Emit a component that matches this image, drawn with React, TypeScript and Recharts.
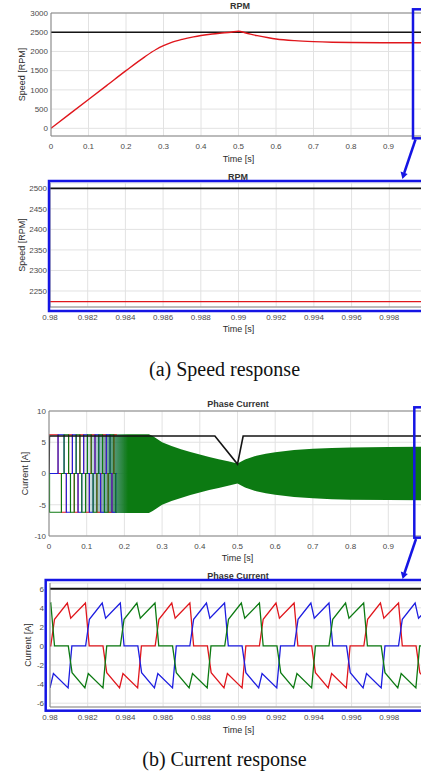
import React from 'react';
import { ComposedChart, Line, Area, XAxis, YAxis, CartesianGrid, ReferenceLine } from 'recharts';

const SANS = '"Liberation Sans", Arial, Helvetica, sans-serif';
const SERIF = '"Liberation Serif", "Times New Roman", serif';

const RED = '#e0161c';
const BLUE = '#1d1de0';
const GREEN = '#0c7a12';
const BLACK = '#141414';
const BOX = '#1515e4';
const AXIS = '#858585';
const GRID = '#e2e2e2';
const TICK = '#4a4a4a';

// ---------- (a) Speed response : full run ----------
const speedTimeTicks = [0, 0.1, 0.2, 0.3, 0.4, 0.5, 0.6, 0.7, 0.8, 0.9];
const speedTicks = [0, 500, 1000, 1500, 2000, 2500, 3000];
const speedRefTime = [0, 1];
const speedRefRpm = [2500, 2500];
const speedTime = [0, 0.05, 0.1, 0.15, 0.2, 0.25, 0.28, 0.3, 0.32, 0.35, 0.38, 0.4, 0.43, 0.45, 0.48, 0.5, 0.52, 0.55, 0.58, 0.6, 0.65, 0.7, 0.75, 0.8, 0.9, 1.0];
const speedRpm = [0, 375, 750, 1125, 1500, 1860, 2050, 2150, 2230, 2315, 2380, 2415, 2455, 2475, 2500, 2525, 2480, 2410, 2355, 2325, 2280, 2255, 2240, 2232, 2226, 2224];

// ---------- (a) Speed response : zoom 0.98 - 1.0 s ----------
const zoomTimeTicks = [0.98, 0.982, 0.984, 0.986, 0.988, 0.99, 0.992, 0.994, 0.996, 0.998];
const zoomSpeedTicks = [2250, 2300, 2350, 2400, 2450, 2500];
const zoomTime = [0.98, 1];
const zoomRefRpm = [2500, 2500];
const zoomSpeedRpm = [2224, 2224];

// ---------- (b) Current response : full run ----------
const currentTicks = [-10, -5, 0, 5, 10];
const currentRefTime = [0, 0.001, 0.44, 0.5, 0.515, 1];
const currentRefAmp = [0, 6, 6, 1.5, 6, 6];
// envelope of the dense three-phase oscillation
const envTime = [0.09, 0.265, 0.275, 0.285, 0.3, 0.325, 0.35, 0.375, 0.4, 0.425, 0.45, 0.475, 0.5, 0.52, 0.55, 0.575, 0.6, 0.65, 0.7, 0.75, 0.8, 0.9, 1.0];
const envHigh = [6.3, 6.3, 6.0, 5.6, 5.0, 4.4, 3.9, 3.45, 3.05, 2.65, 2.3, 1.95, 1.6, 2.25, 2.85, 3.15, 3.4, 3.75, 3.95, 4.1, 4.18, 4.25, 4.28];
const envLow = [-6.3, -6.3, -6.0, -5.6, -5.0, -4.4, -3.9, -3.45, -3.05, -2.65, -2.3, -1.95, -1.6, -2.25, -2.85, -3.15, -3.4, -3.75, -3.95, -4.1, -4.18, -4.25, -4.28];
// start-up commutation steps
const startRedTime = [0, 0.024, 0.033, 0.046, 0.052, 0.062, 0.067, 0.077, 0.082, 0.092, 0.097, 0.107, 0.112, 0.122, 0.127, 0.137, 0.142, 0.152, 0.157, 0.167, 0.172, 0.18];
const startRedAmp = [6.2, 0, -6.2, 0, 6.2, 0, -6.2, 0, 6.2, 0, -6.2, 0, 6.2, 0, -6.2, 0, 6.2, 0, -6.2, 0, 6.2, 6.2];
const startBlueTime = [0, 0.024, 0.04, 0.046, 0.057, 0.062, 0.072, 0.077, 0.087, 0.092, 0.102, 0.107, 0.117, 0.122, 0.132, 0.137, 0.147, 0.152, 0.162, 0.167, 0.177, 0.18];
const startBlueAmp = [0, 6.2, 0, -6.2, 0, 6.2, 0, -6.2, 0, 6.2, 0, -6.2, 0, 6.2, 0, -6.2, 0, 6.2, 0, -6.2, 0, 0];
const startGreenTime = [0, 0.0015, 0.033, 0.04, 0.052, 0.057, 0.067, 0.072, 0.082, 0.087, 0.097, 0.102, 0.112, 0.117, 0.127, 0.132, 0.142, 0.147, 0.157, 0.162, 0.172, 0.177, 0.18];
const startGreenAmp = [0, -6.2, 0, 6.2, 0, -6.2, 0, 6.2, 0, -6.2, 0, 6.2, 0, -6.2, 0, 6.2, 0, -6.2, 0, 6.2, 0, -6.2, -6.2];

// ---------- (b) Current response : zoom 0.98 - 1.0 s ----------
const zoomCurrentTicks = [-6, -4, -2, 0, 2, 4, 6];
const zoomRefAmp = [6, 6];
const zoomRed: [number, number][] = [
  [0.98, 0],
  [0.98004, 0], [0.98024, 2.8], [0.98092, 4.5], [0.9811, 2.9], [0.98188, 4.5], [0.98208, 0],
  [0.98281, 0], [0.98301, -2.8], [0.98369, -4.4], [0.98387, -2.9], [0.98465, -4.4], [0.98485, 0],
  [0.98558, 0], [0.98578, 2.8], [0.98646, 4.5], [0.98664, 2.9], [0.98742, 4.5], [0.98762, 0],
  [0.98835, 0], [0.98855, -2.8], [0.98923, -4.4], [0.98941, -2.9], [0.99019, -4.4], [0.99039, 0],
  [0.99111, 0], [0.99131, 2.8], [0.99199, 4.5], [0.99217, 2.9], [0.99295, 4.5], [0.99315, 0],
  [0.99388, 0], [0.99408, -2.8], [0.99476, -4.4], [0.99494, -2.9], [0.99572, -4.4], [0.99592, 0],
  [0.99665, 0], [0.99685, 2.8], [0.99753, 4.5], [0.99771, 2.9], [0.99849, 4.5], [0.99869, 0],
  [0.99942, 0], [0.99962, -2.8], [1.0003, -4.4],
];
const zoomGreen: [number, number][] = [
  [0.98, 4.45], [0.98004, 4.5], [0.98024, 0],
  [0.98097, 0], [0.98117, -2.8], [0.98185, -4.4], [0.98203, -2.9], [0.98281, -4.4], [0.98301, 0],
  [0.98373, 0], [0.98393, 2.8], [0.98461, 4.5], [0.98479, 2.9], [0.98557, 4.5], [0.98577, 0],
  [0.9865, 0], [0.9867, -2.8], [0.98738, -4.4], [0.98756, -2.9], [0.98834, -4.4], [0.98854, 0],
  [0.98927, 0], [0.98947, 2.8], [0.99015, 4.5], [0.99033, 2.9], [0.99111, 4.5], [0.99131, 0],
  [0.99204, 0], [0.99224, -2.8], [0.99292, -4.4], [0.9931, -2.9], [0.99388, -4.4], [0.99408, 0],
  [0.9948, 0], [0.995, 2.8], [0.99568, 4.5], [0.99586, 2.9], [0.99664, 4.5], [0.99684, 0],
  [0.99757, 0], [0.99777, -2.8], [0.99845, -4.4], [0.99863, -2.9], [0.99941, -4.4], [0.99961, 0],
  [1.0005, 0],
];
const zoomBlue: [number, number][] = [
  [0.98, -4.4], [0.98018, -2.9], [0.98096, -4.4], [0.98116, 0],
  [0.98189, 0], [0.98209, 2.8], [0.98277, 4.5], [0.98295, 2.9], [0.98373, 4.5], [0.98393, 0],
  [0.98466, 0], [0.98486, -2.8], [0.98554, -4.4], [0.98572, -2.9], [0.9865, -4.4], [0.9867, 0],
  [0.98742, 0], [0.98762, 2.8], [0.9883, 4.5], [0.98848, 2.9], [0.98926, 4.5], [0.98946, 0],
  [0.99019, 0], [0.99039, -2.8], [0.99107, -4.4], [0.99125, -2.9], [0.99203, -4.4], [0.99223, 0],
  [0.99296, 0], [0.99316, 2.8], [0.99384, 4.5], [0.99402, 2.9], [0.9948, 4.5], [0.995, 0],
  [0.99573, 0], [0.99593, -2.8], [0.99661, -4.4], [0.99679, -2.9], [0.99757, -4.4], [0.99777, 0],
  [0.99849, 0], [0.99869, 2.8], [0.99937, 4.5], [0.99955, 2.9], [1.00033, 4.5],
];

// ---------- helpers ----------
const rows = (ts: number[], vs: number[]) => ts.map((t, i) => ({ t, v: vs[i] }));
const pairs = (ps: [number, number][]) => ps.map(([t, v]) => ({ t, v }));
const envRows = envTime.map((t, i) => ({ t, range: [envLow[i], envHigh[i]] }));

const tickStyle = { fontSize: 8, fill: TICK, fontFamily: SANS };
const labelStyle = { fontSize: 9, fill: '#2c2c2c', fontFamily: SANS };

function xAxisEl(domain: [number, number], ticks: number[], offset: number) {
  return (
    <XAxis
      type="number"
      dataKey="t"
      domain={domain}
      ticks={ticks}
      interval={0}
      allowDataOverflow
      tickLine={false}
      tickSize={4}
      tickMargin={3}
      axisLine={{ stroke: AXIS }}
      tick={tickStyle}
      height={34}
      label={{ value: 'Time [s]', position: 'insideBottom', offset, ...labelStyle }}
    />
  );
}

function yAxisEl(domain: [number, number], ticks: number[], width: number, text: string, dx: number, margin = 3) {
  return (
    <YAxis
      type="number"
      domain={domain}
      ticks={ticks}
      interval={0}
      allowDataOverflow
      width={width}
      tickLine={false}
      tickSize={0}
      tickMargin={margin}
      axisLine={{ stroke: AXIS }}
      tick={tickStyle}
      label={{ value: text, angle: -90, position: 'center', dx, ...labelStyle }}
    />
  );
}

function lineEl(key: string, data: { t: number; v: number }[], color: string, width: number, type: any = 'linear') {
  return (
    <Line
      key={key}
      data={data}
      dataKey="v"
      type={type}
      stroke={color}
      strokeWidth={width}
      dot={false}
      activeDot={false}
      isAnimationActive={false}
    />
  );
}

const Box = ({ top, children }: { top: number; children: React.ReactNode }) => (
  <div style={{ position: 'absolute', left: 0, top }}>{children}</div>
);

export default function App() {
  return (
    <div
      style={{
        position: 'absolute',
        left: 0,
        top: 0,
        width: 421,
        height: 781,
        overflow: 'hidden',
        background: '#ffffff',
      }}
    >
      {/* (a) full speed */}
      <Box top={0}>
        <ComposedChart width={450} height={170} margin={{ top: 13, right: 24, left: 0, bottom: 0 }}>
          <CartesianGrid stroke={GRID} />
          {xAxisEl([0, 1], speedTimeTicks, 8)}
          {yAxisEl([-200, 3000], speedTicks, 51, 'Speed [RPM]', -3.5)}
          <ReferenceLine y={3000} stroke={AXIS} />
          {lineEl('ref', rows(speedRefTime, speedRefRpm), BLACK, 1.6)}
          {lineEl('spd', rows(speedTime, speedRpm), RED, 1.4, 'monotone')}
        </ComposedChart>
      </Box>

      {/* (a) zoom speed */}
      <Box top={170}>
        <ComposedChart width={450} height={171} margin={{ top: 13, right: 23, left: 0, bottom: 0 }}>
          <CartesianGrid stroke={GRID} />
          {xAxisEl([0.98, 1], zoomTimeTicks, 9)}
          {yAxisEl([2211, 2513], zoomSpeedTicks, 50, 'Speed [RPM]', -3.3)}
          {lineEl('zref', rows(zoomTime, zoomRefRpm), BLACK, 1.8)}
          {lineEl('zspd', rows(zoomTime, zoomSpeedRpm), RED, 1.4)}
        </ComposedChart>
      </Box>

      {/* (b) full current */}
      <Box top={398}>
        <ComposedChart width={450} height={172} margin={{ top: 13, right: 24, left: 0, bottom: 0 }}>
          <defs>
            <linearGradient id="bandFill" gradientUnits="userSpaceOnUse" x1={80} y1={0} x2={128} y2={0}>
              <stop offset="0" stopColor="#2d7f86" stopOpacity={0} />
              <stop offset="0.45" stopColor="#1f6f73" stopOpacity={0.5} />
              <stop offset="1" stopColor={GREEN} stopOpacity={1} />
            </linearGradient>
          </defs>
          <CartesianGrid stroke={GRID} />
          {xAxisEl([0, 1], speedTimeTicks, 9)}
          {yAxisEl([-10, 10], currentTicks, 49, 'Current [A]', 0.5)}
          <ReferenceLine y={10} stroke={AXIS} />
          {lineEl('sr', rows(startRedTime, startRedAmp), RED, 1.1, 'stepAfter')}
          {lineEl('sb', rows(startBlueTime, startBlueAmp), BLUE, 1.1, 'stepAfter')}
          {lineEl('sg', rows(startGreenTime, startGreenAmp), GREEN, 1.1, 'stepAfter')}
          <Area
            data={envRows}
            dataKey="range"
            type="linear"
            stroke="none"
            fill="url(#bandFill)"
            fillOpacity={1}
            isAnimationActive={false}
            dot={false}
            activeDot={false}
          />
          {lineEl('cref', rows(currentRefTime, currentRefAmp), BLACK, 1.6)}
        </ComposedChart>
      </Box>

      {/* (b) zoom current */}
      <Box top={570}>
        <ComposedChart width={450} height={171} margin={{ top: 13, right: 23, left: 0, bottom: 0 }}>
          <CartesianGrid stroke={GRID} />
          {xAxisEl([0.98, 1], zoomTimeTicks, 8)}
          {yAxisEl([-6.4, 6.6], zoomCurrentTicks, 50, 'Current [A]', 3, 6)}
          {lineEl('zr', pairs(zoomRed), RED, 1.3)}
          {lineEl('zb', pairs(zoomBlue), BLUE, 1.3)}
          {lineEl('zg', pairs(zoomGreen), GREEN, 1.3)}
          {lineEl('zcref', rows(zoomTime, zoomRefAmp), BLACK, 2)}
        </ComposedChart>
      </Box>

      {/* titles, zoom boxes, arrows and captions */}
      <svg
        width={421}
        height={781}
        style={{ position: 'absolute', left: 0, top: 0, pointerEvents: 'none' }}
      >
        <g fontFamily={SANS} fontSize={9} fontWeight="bold" fill="#333" textAnchor="middle">
          <text x={240} y={9}>RPM</text>
          <text x={238} y={180}>RPM</text>
          <text x={238} y={406.5}>Phase Current</text>
          <text x={238} y={579}>Phase Current</text>
        </g>
        <g fill="none" stroke={BOX} strokeWidth={2.5}>
          <rect x={413} y={9.3} width={40} height={129} />
          <rect x={49} y={181} width={400} height={130} />
          <rect x={414.3} y={407.3} width={40} height={130.4} />
          <rect x={45.7} y={580} width={400} height={130.7} />
          <line x1={415.5} y1={139.5} x2={404.2} y2={173} />
          <line x1={416} y1={539} x2={404.5} y2={573} />
        </g>
        <g fill={BOX} stroke="none">
          <polygon points="402.4,179 400.6,171.6 407.6,174" />
          <polygon points="402.6,579 400.8,571.6 407.8,574" />
        </g>
        <g fontFamily={SERIF} fontSize={20} fill="#111" textAnchor="middle">
          <text x={224.5} y={376}>(a) Speed response</text>
          <text x={224.5} y={766}>(b) Current response</text>
        </g>
      </svg>
    </div>
  );
}
